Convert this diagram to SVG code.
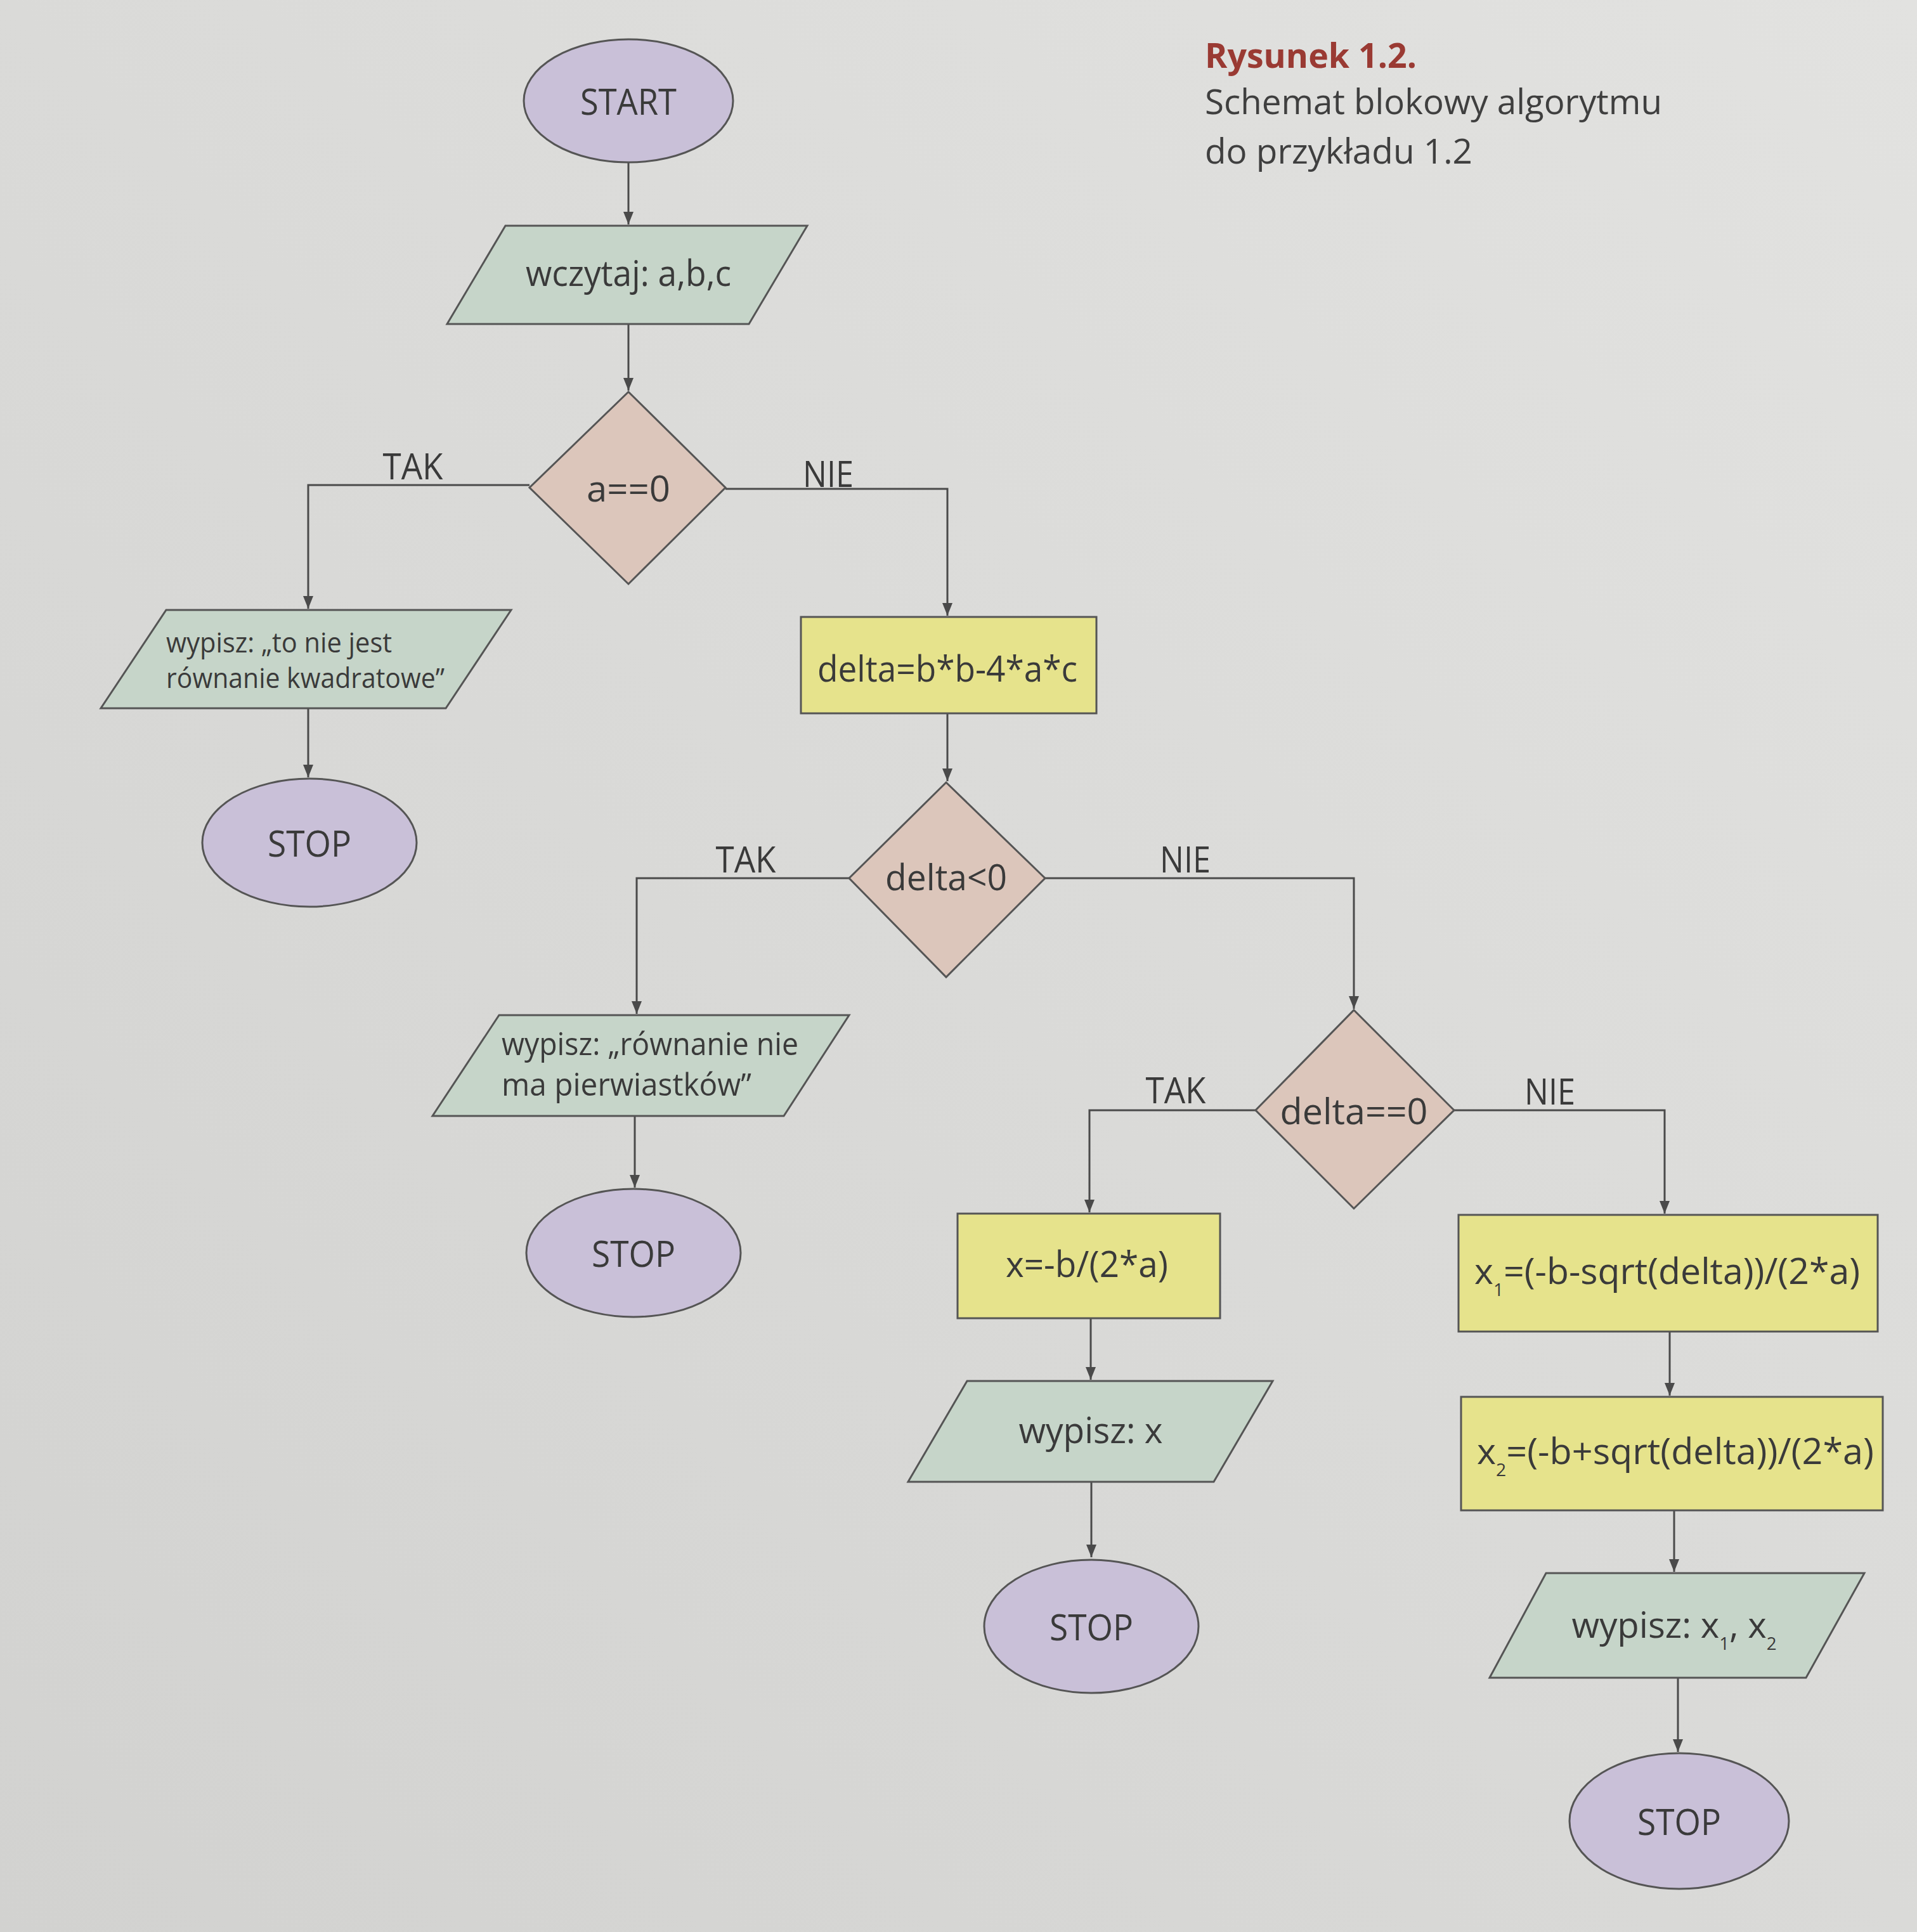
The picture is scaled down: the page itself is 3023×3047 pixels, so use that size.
<svg xmlns="http://www.w3.org/2000/svg" width="3023" height="3047" viewBox="0 0 3023 3047">
<defs>
<linearGradient id="bg" x1="1" y1="0" x2="0" y2="1">
<stop offset="0" stop-color="#e2e2e0"/>
<stop offset="0.5" stop-color="#dadad8"/>
<stop offset="1" stop-color="#d2d2d0"/>
</linearGradient>
<marker id="arr" markerUnits="userSpaceOnUse" markerWidth="22" markerHeight="18" refX="20" refY="8" orient="auto">
<path d="M0,0 L20,8 L0,16 Z" fill="#4a4a4a"/>
</marker>
<style>
.t{font-family:"Open Sans","Noto Sans","DejaVu Sans",sans-serif;fill:#3a3a3a;font-size:57px;text-anchor:middle;dominant-baseline:central}
.tl{font-family:"Open Sans","Noto Sans","DejaVu Sans",sans-serif;fill:#3a3a3a;font-size:44px}
.sub{font-size:28px;dominant-baseline:auto}
.term{fill:#c9c0d8;stroke:#555;stroke-width:3}
.io{fill:#c6d5c9;stroke:#555;stroke-width:3}
.dec{fill:#dcc6bb;stroke:#555;stroke-width:3}
.proc{fill:#e6e38c;stroke:#555;stroke-width:3}
.c{fill:none;stroke:#4a4a4a;stroke-width:3;marker-end:url(#arr)}
.title{font-family:"Open Sans","Noto Sans","DejaVu Sans",sans-serif;font-size:54px;fill:#3f3f3f}
</style>
</defs>
<rect width="3023" height="3047" fill="url(#bg)"/>

<g id="caption">
<text class="title" x="1900" y="107" font-weight="bold" style="fill:#9a3a33" textLength="334" lengthAdjust="spacingAndGlyphs">Rysunek 1.2.</text>
<text class="title" x="1900" y="180" textLength="721" lengthAdjust="spacingAndGlyphs">Schemat blokowy algorytmu</text>
<text class="title" x="1900" y="258" textLength="422" lengthAdjust="spacingAndGlyphs">do przykładu 1.2</text>
</g>

<g id="connectors">
<path class="c" d="M991,256 L991,354"/>
<path class="c" d="M991,511 L991,616"/>
<path class="c" d="M835,765 L486,765 L486,960"/>
<path class="c" d="M1144,771 L1494,771 L1494,971"/>
<path class="c" d="M486,1117 L486,1226"/>
<path class="c" d="M1494,1125 L1494,1232"/>
<path class="c" d="M1339,1385 L1004,1385 L1004,1599"/>
<path class="c" d="M1648,1385 L2135,1385 L2135,1591"/>
<path class="c" d="M1001,1760 L1001,1873"/>
<path class="c" d="M1980,1751 L1718,1751 L1718,1912"/>
<path class="c" d="M2293,1751 L2625,1751 L2625,1914"/>
<path class="c" d="M1720,2079 L1720,2176"/>
<path class="c" d="M1721,2337 L1721,2456"/>
<path class="c" d="M2633,2100 L2633,2201"/>
<path class="c" d="M2640,2382 L2640,2479"/>
<path class="c" d="M2646,2646 L2646,2763"/>
<text class="t" x="651" y="734" textLength="95" lengthAdjust="spacingAndGlyphs">TAK</text>
<text class="t" x="1306" y="746" textLength="80" lengthAdjust="spacingAndGlyphs">NIE</text>
<text class="t" x="1176" y="1354" textLength="95" lengthAdjust="spacingAndGlyphs">TAK</text>
<text class="t" x="1869" y="1354" textLength="80" lengthAdjust="spacingAndGlyphs">NIE</text>
<text class="t" x="1854" y="1718" textLength="95" lengthAdjust="spacingAndGlyphs">TAK</text>
<text class="t" x="2444" y="1720" textLength="80" lengthAdjust="spacingAndGlyphs">NIE</text>
</g>

<g id="start">
<ellipse class="term" cx="991" cy="159" rx="165" ry="97"/>
<text class="t" x="991" y="159" textLength="152" lengthAdjust="spacingAndGlyphs">START</text>
</g>

<g id="read">
<polygon class="io" points="797,356 1273,356 1181,511 705,511"/>
<text class="t" x="991" y="429" textLength="324" lengthAdjust="spacingAndGlyphs">wczytaj: a,b,c</text>
</g>

<g id="dec_a">
<polygon class="dec" points="991,618 1144,769 991,921 835,769"/>
<text class="t" x="991" y="769" textLength="132" lengthAdjust="spacingAndGlyphs">a==0</text>
</g>

<g id="out_notquad">
<polygon class="io" points="262,962 806,962 703,1117 159,1117"/>
<text class="tl" x="262" y="1029" textLength="356" lengthAdjust="spacingAndGlyphs">wypisz: „to nie jest</text>
<text class="tl" x="262" y="1085" textLength="439" lengthAdjust="spacingAndGlyphs">równanie kwadratowe”</text>
</g>

<g id="stop1">
<ellipse class="term" cx="488" cy="1329" rx="169" ry="101"/>
<text class="t" x="488" y="1329" textLength="132" lengthAdjust="spacingAndGlyphs">STOP</text>
</g>

<g id="delta">
<rect class="proc" x="1263" y="973" width="466" height="152"/>
<text class="t" x="1494" y="1053" textLength="410" lengthAdjust="spacingAndGlyphs">delta=b*b-4*a*c</text>
</g>

<g id="dec_neg">
<polygon class="dec" points="1492,1234 1648,1385 1492,1541 1339,1385"/>
<text class="t" x="1492" y="1382" textLength="192" lengthAdjust="spacingAndGlyphs">delta&lt;0</text>
</g>

<g id="out_noroots">
<polygon class="io" points="787,1601 1339,1601 1236,1760 682,1760"/>
<text class="tl" x="791" y="1664" style="font-size:50px" textLength="468" lengthAdjust="spacingAndGlyphs">wypisz: „równanie nie</text>
<text class="tl" x="791" y="1728" style="font-size:50px" textLength="394" lengthAdjust="spacingAndGlyphs">ma pierwiastków”</text>
</g>

<g id="stop2">
<ellipse class="term" cx="999" cy="1976" rx="169" ry="101"/>
<text class="t" x="999" y="1976" textLength="132" lengthAdjust="spacingAndGlyphs">STOP</text>
</g>

<g id="dec_zero">
<polygon class="dec" points="2135,1593 2293,1751 2135,1906 1980,1751"/>
<text class="t" x="2135" y="1751" textLength="233" lengthAdjust="spacingAndGlyphs">delta==0</text>
</g>

<g id="calc_x">
<rect class="proc" x="1510" y="1914" width="414" height="165"/>
<text class="t" x="1714" y="1992" textLength="256" lengthAdjust="spacingAndGlyphs">x=-b/(2*a)</text>
</g>

<g id="out_x">
<polygon class="io" points="1525,2178 2007,2178 1914,2337 1432,2337"/>
<text class="t" x="1720" y="2254" textLength="227" lengthAdjust="spacingAndGlyphs">wypisz: x</text>
</g>

<g id="stop3">
<ellipse class="term" cx="1721" cy="2565" rx="169" ry="105"/>
<text class="t" x="1721" y="2565" textLength="132" lengthAdjust="spacingAndGlyphs">STOP</text>
</g>

<g id="calc_x1">
<rect class="proc" x="2300" y="1916" width="661" height="184"/>
<text class="t" x="2629" y="2003" textLength="608" lengthAdjust="spacingAndGlyphs">x<tspan class="sub" dy="30">1</tspan><tspan dy="-30">=(-b-sqrt(delta))/(2*a)</tspan></text>
</g>

<g id="calc_x2">
<rect class="proc" x="2304" y="2203" width="665" height="179"/>
<text class="t" x="2642" y="2287" textLength="626" lengthAdjust="spacingAndGlyphs">x<tspan class="sub" dy="30">2</tspan><tspan dy="-30">=(-b+sqrt(delta))/(2*a)</tspan></text>
</g>

<g id="out_x12">
<polygon class="io" points="2438,2481 2940,2481 2848,2646 2349,2646"/>
<text class="t" x="2640" y="2561" textLength="323" lengthAdjust="spacingAndGlyphs">wypisz: x<tspan class="sub" dy="30">1</tspan><tspan dy="-30">, x</tspan><tspan class="sub" dy="30">2</tspan></text>
</g>

<g id="stop4">
<ellipse class="term" cx="2648" cy="2872" rx="173" ry="107"/>
<text class="t" x="2648" y="2872" textLength="132" lengthAdjust="spacingAndGlyphs">STOP</text>
</g>
</svg>
